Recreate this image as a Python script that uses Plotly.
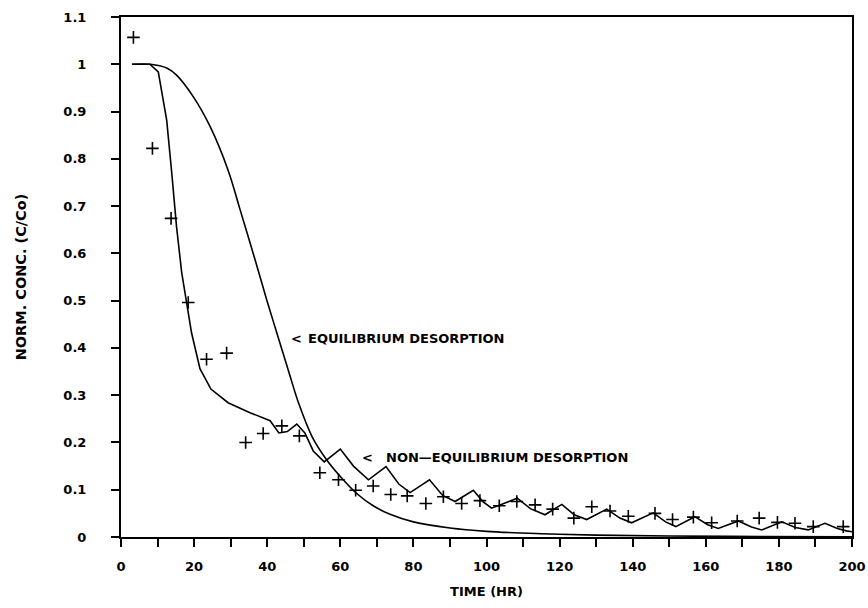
import plotly.graph_objects as go

# Measured breakthrough data (normalized concentration vs time)
obs_time = [3.4, 8.6, 13.7, 18.4, 23.4, 28.9, 34.1, 38.9, 44.0, 48.8,
            54.4, 59.5, 64.2, 69.0, 73.8, 78.3, 83.4, 88.2, 93.2, 98.2,
            103.5, 108.3, 113.3, 118.1, 123.9, 128.8, 133.8, 138.8, 146.1, 150.9,
            156.6, 161.6, 168.6, 174.6, 179.6, 184.4, 189.4, 197.6]
obs_conc = [1.057, 0.822, 0.674, 0.496, 0.376, 0.389, 0.200, 0.219, 0.235, 0.214,
            0.136, 0.121, 0.099, 0.108, 0.090, 0.087, 0.071, 0.085, 0.071, 0.077,
            0.066, 0.075, 0.068, 0.059, 0.040, 0.064, 0.055, 0.044, 0.050, 0.037,
            0.042, 0.030, 0.034, 0.040, 0.031, 0.029, 0.022, 0.022]

# Model: equilibrium desorption
eq_time = [3, 8, 12.5, 15.2, 19.8, 24.4, 29.3, 32.6, 36.7, 39.9, 43.5, 46.0,
           48.6, 52.3, 56.3, 60.0, 64.5, 69.0, 73.6, 80, 90, 100, 115, 130, 150, 175, 200]
eq_conc = [1.0, 1.0, 0.992, 0.977, 0.931, 0.868, 0.776, 0.692, 0.586, 0.501, 0.410, 0.347,
           0.283, 0.212, 0.163, 0.128, 0.092, 0.066, 0.048, 0.032, 0.019, 0.012, 0.007,
           0.004, 0.002, 0.001, 0.0005]

# Model: non-equilibrium desorption
neq_time = [3, 7.9, 10.2, 12.5, 13.9, 15.2, 16.6, 18.0, 19.3, 21.6, 24.6, 29.3, 35.3,
            40.8, 43.2, 45.5, 48.1, 50.3, 52.6, 55.6, 60.0, 63.6, 67.7, 72.5, 76.0,
            79.1, 84.4, 88.0, 91.4, 96.4, 99.0, 101.4, 108.4, 112.0, 116.0, 120.6,
            124.0, 127.4, 132.9, 136.5, 139.7, 145.6, 149.0, 151.8, 157.0, 160.5,
            163.4, 168.9, 172.5, 175.3, 180.8, 184.5, 188.0, 192.6, 196.0, 198.5, 200]
neq_conc = [1.0, 1.0, 0.984, 0.882, 0.769, 0.656, 0.560, 0.495, 0.432, 0.356, 0.313,
            0.284, 0.263, 0.246, 0.220, 0.223, 0.239, 0.220, 0.182, 0.159, 0.186,
            0.150, 0.121, 0.149, 0.112, 0.094, 0.121, 0.088, 0.075, 0.099, 0.075,
            0.061, 0.082, 0.060, 0.047, 0.069, 0.047, 0.037, 0.059, 0.040, 0.030,
            0.051, 0.032, 0.022, 0.043, 0.026, 0.018, 0.034, 0.021, 0.015, 0.032,
            0.020, 0.015, 0.029, 0.018, 0.013, 0.011]

x_ticks = list(range(0, 201, 10))
x_labels = [str(v) if v % 20 == 0 else "" for v in x_ticks]
y_ticks = [round(i * 0.1, 1) for i in range(12)]
y_labels = ["0", "0.1", "0.2", "0.3", "0.4", "0.5", "0.6", "0.7", "0.8", "0.9", "1", "1.1"]

FONT = "DejaVu Sans"

fig = go.Figure()
fig.add_trace(go.Scatter(x=eq_time, y=eq_conc, mode="lines",
                         line=dict(color="black", width=1.6, shape="spline", smoothing=1.0),
                         showlegend=False))
fig.add_trace(go.Scatter(x=neq_time, y=neq_conc, mode="lines",
                         line=dict(color="black", width=1.6), showlegend=False))
fig.add_trace(go.Scatter(x=obs_time, y=obs_conc, mode="markers",
                         marker=dict(symbol="cross-thin", size=9,
                                     line=dict(color="black", width=1.6)),
                         showlegend=False))

label_font = dict(family=FONT, size=13, color="black", weight="bold")
fig.add_annotation(x=46.0, y=0.419, xref="x", yref="y", text="<", showarrow=False,
                   xanchor="left", yanchor="middle", font=label_font)
fig.add_annotation(x=50.5, y=0.419, xref="x", yref="y", text="EQUILIBRIUM DESORPTION",
                   showarrow=False, xanchor="left", yanchor="middle", font=label_font)
fig.add_annotation(x=65.4, y=0.168, xref="x", yref="y", text="<", showarrow=False,
                   xanchor="left", yanchor="middle", font=label_font)
fig.add_annotation(x=72.0, y=0.168, xref="x", yref="y", text="NON—EQUILIBRIUM DESORPTION",
                   showarrow=False, xanchor="left", yanchor="middle", font=label_font)

axis_common = dict(showline=True, linecolor="black", linewidth=2, mirror=True,
                   showgrid=False, zeroline=False, ticks="outside", ticklen=8,
                   tickwidth=1.6, tickcolor="black", automargin=False,
                   tickfont=dict(family=FONT, size=13, color="black", weight="bold"))

fig.update_xaxes(range=[0, 200], tickvals=x_ticks, ticktext=x_labels,
                 ticklabelstandoff=8,
                 title=dict(text="TIME (HR)", standoff=14,
                            font=dict(family=FONT, size=13, color="black", weight="bold")),
                 **axis_common)
fig.update_yaxes(range=[0, 1.1], tickvals=y_ticks, ticktext=y_labels,
                 ticklabelstandoff=22,
                 title=dict(text="NORM. CONC. (C/Co)", standoff=33,
                            font=dict(family=FONT, size=14.5, color="black", weight="bold")),
                 **axis_common)

fig.update_layout(width=868, height=608,
                  margin=dict(l=121, r=16, t=17, b=71),
                  paper_bgcolor="white", plot_bgcolor="white",
                  font=dict(family=FONT, color="black"))

fig.write_html("out.html")
